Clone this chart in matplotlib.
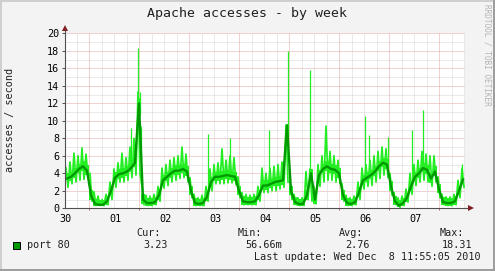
import numpy as np
import matplotlib
matplotlib.use("Agg")
import matplotlib.pyplot as plt
from matplotlib.lines import Line2D
from matplotlib.patches import Rectangle

# values, one per 4 px (~2 h), starting Nov 30 ~noon
avg = [3.4, 3.6, 4.0, 4.5, 4.8, 4.3, 1.5, 0.5, 0.4, 0.4, 0.8, 2.0, 3.5,
       3.9, 4.0, 4.2, 4.6, 5.2, 12.0, 1.0, 0.6, 0.6, 0.7, 1.5, 3.2,
       3.6, 4.0, 4.3, 4.3, 4.5, 4.2, 2.0, 0.6, 0.5, 0.6, 1.3, 3.0, 3.6,
       3.6, 3.7, 3.8, 3.7, 3.6, 2.0, 0.8, 0.7, 0.7, 0.8, 1.5, 2.6,
       2.6, 2.8, 3.0, 3.1, 3.2, 9.5, 2.0, 0.7, 0.5, 0.5, 1.5, 4.0, 1.0,
       3.8, 4.5, 4.8, 4.5, 4.4, 4.0, 1.5, 0.6, 0.5, 0.7, 1.8, 3.2,
       3.5, 3.8, 4.2, 4.8, 5.2, 5.0, 2.5, 0.8, 0.3, 0.6, 1.2, 2.5, 3.6,
       4.0, 4.6, 4.4, 3.4, 4.2, 2.2, 0.7, 0.6, 0.6, 0.8, 2.0, 3.3]
hi = [4.6, 5.3, 6.3, 6.0, 6.9, 6.2, 4.0, 1.9, 1.4, 1.0, 1.6, 3.0, 4.5,
      5.2, 6.3, 5.8, 7.0, 8.0, 13.3, 2.5, 1.5, 1.4, 1.6, 2.5, 4.6,
      5.0, 5.5, 5.8, 6.0, 7.0, 6.2, 3.5, 1.6, 1.2, 1.5, 2.5, 4.5, 5.0,
      5.2, 6.8, 5.5, 6.0, 5.8, 3.6, 1.8, 1.6, 1.5, 1.6, 2.5, 4.6,
      4.0, 4.6, 4.8, 5.0, 5.3, 9.5, 3.0, 1.6, 1.2, 1.2, 4.2, 4.5, 2.5,
      5.0, 6.0, 9.4, 6.5, 6.0, 5.5, 2.8, 1.5, 1.2, 1.4, 3.0, 4.6,
      5.0, 5.5, 6.0, 6.5, 7.0, 6.8, 4.0, 1.8, 1.2, 1.4, 2.2, 4.0, 5.0,
      5.5, 6.5, 6.2, 6.0, 6.0, 3.6, 1.6, 1.3, 1.3, 1.6, 3.2, 4.6]
lo = [2.4, 2.8, 3.0, 3.2, 3.3, 3.6, 0.8, 0.3, 0.3, 0.3, 0.4, 1.0, 2.4,
      3.0, 3.0, 3.2, 3.5, 3.8, 4.0, 0.4, 0.3, 0.3, 0.4, 0.8, 2.3,
      2.6, 3.0, 3.2, 3.4, 3.5, 3.0, 1.2, 0.3, 0.3, 0.3, 0.8, 2.0, 2.8,
      2.8, 2.8, 2.9, 2.9, 2.7, 1.2, 0.4, 0.4, 0.4, 0.4, 0.8, 1.8,
      1.8, 2.0, 2.0, 2.2, 2.4, 3.0, 1.0, 0.4, 0.3, 0.3, 1.0, 0.8, 0.5,
      2.5, 3.0, 3.2, 3.2, 3.0, 2.8, 0.8, 0.3, 0.3, 0.4, 1.0, 2.2,
      2.5, 2.6, 3.0, 3.4, 3.8, 3.5, 1.5, 0.4, 0.1, 0.3, 0.7, 1.6, 2.6,
      3.0, 3.2, 3.0, 2.5, 3.0, 1.2, 0.4, 0.3, 0.3, 0.4, 1.2, 2.4]

# single-sample peaks (day offset, value)
spike_day = [1.32, 1.466, 1.49, 1.526, 2.866, 3.30, 4.08, 4.466, 4.90,
             6.00, 6.08, 6.46, 6.934, 7.166, 7.93]
spike_val = [9.2, 18.3, 13.3, 9.4, 8.5, 8.0, 8.9, 18.0, 15.8,
             10.5, 8.4, 8.2, 8.9, 11.2, 5.1]

day_labels = ["30", "01", "02", "03", "04", "05", "06", "07"]
stats = [("Cur:", "3.23"), ("Min:", "56.66m"), ("Avg:", "2.76"), ("Max:", "18.31")]

W, H = 495, 271
MONO = "DejaVu Sans Mono"
bright = "#22ee22"
dark = "#009a00"

fig = plt.figure(figsize=(W / 100, H / 100), dpi=100)
fig.patch.set_facecolor("#f3f3f3")


def px(x, y):
    return x / W, 1 - y / H


ax = fig.add_axes([65 / W, (H - 208.3) / H, 400 / W, 175 / H])
ax.set_facecolor("white")
ax.set_xlim(0, 8)
ax.set_ylim(0, 20)
for s in ax.spines.values():
    s.set_visible(False)

# grid
dot = dict(linestyle=(0, (1, 1)), linewidth=0.72, zorder=0)
for v in range(21):
    ax.axhline(v, color="#e3a7a7" if v % 2 == 0 else "#d4d4d4", **dot)
midnight = 0.48
for k, v in enumerate(np.arange(midnight - 0.25, 8, 0.25)):
    if v <= 0.01:
        continue
    ax.axvline(v, color="#e3a7a7" if (k - 1) % 4 == 0 else "#d4d4d4", **dot)

# max line zig-zags between the upper and lower envelope every 2 px
x = np.arange(len(avg)) * 0.08 + 0.04
zx = np.column_stack([x - 0.02, x + 0.02]).ravel()
zy = np.column_stack([hi, lo]).ravel()
a = np.array(avg)
ax.fill_between(x, np.minimum(a + 0.6, hi), np.maximum(a - 0.5, lo),
                step="mid", color=bright, linewidth=0, zorder=2)
ax.plot(zx, zy, color=bright, linewidth=1.25, zorder=2)
ax.vlines(spike_day, np.interp(spike_day, x, avg), spike_val,
          color=bright, linewidth=0.9, zorder=2)
ax.plot(x, avg, color=dark, linewidth=1.7, zorder=3)

# axes with arrows
ax.plot([0, 0], [0, 20.5], color="#505050", linewidth=0.8, clip_on=False, zorder=4)
ax.plot([0, 8.1], [0, 0], color="#505050", linewidth=0.8, clip_on=False, zorder=4)
ax.plot([0], [20.55], marker="^", markersize=4.5, color="#7f1f1f",
        clip_on=False, zorder=5, markeredgewidth=0)
ax.plot([8.12], [0], marker=">", markersize=4.5, color="#7f1f1f",
        clip_on=False, zorder=5, markeredgewidth=0)

ax.set_yticks(range(0, 21, 2))
ax.set_yticklabels([str(v) for v in range(0, 21, 2)], fontfamily=MONO, fontsize=7.3)
ax.set_xticks(range(len(day_labels)))
ax.set_xticklabels(day_labels, fontfamily=MONO, fontsize=7.3)
ax.tick_params(axis="y", length=2.2, width=0.7, color="#505050", pad=2)
ax.tick_params(axis="x", length=0, pad=4)
ax.set_xticks(np.arange(midnight, 8, 1), minor=True)
ax.tick_params(axis="x", which="minor", length=1.5, width=0.7, color="#c06060")

# texts
fig.text(*px(247, 13), "Apache accesses - by week", ha="center", va="center",
         fontfamily=MONO, fontsize=9.5, color="#202020")
fig.text(*px(10, 120), "accesses / second", rotation=90, ha="center", va="center",
         fontfamily=MONO, fontsize=7.3, color="#202020")
fig.text(*px(487, 4), "RRDTOOL / TOBI OETIKER", rotation=-90, ha="center", va="top",
         fontfamily=MONO, fontsize=5.6, color="#b4b4b4")

fig.add_artist(Rectangle(px(13, 249), 7 / W, 7 / H, facecolor=dark,
                         edgecolor="black", linewidth=0.7, transform=fig.transFigure))
fig.text(*px(27, 245), "port 80", ha="left", va="center", fontfamily=MONO,
         fontsize=7.3, color="#202020")
label_end = [161, 262, 363, 464]
value_end = [168, 282, 370, 472]
for (lab, val), le, ve in zip(stats, label_end, value_end):
    fig.text(*px(le, 233), lab, ha="right", va="center", fontfamily=MONO,
             fontsize=7.3, color="#202020")
    fig.text(*px(ve, 245), val, ha="right", va="center", fontfamily=MONO,
             fontsize=7.3, color="#202020")
fig.text(*px(481, 257.5), "Last update: Wed Dec  8 11:55:05 2010", ha="right",
         va="center", fontfamily=MONO, fontsize=7.3, color="#202020")

# 3d frame
lw = 1.44
fig.add_artist(Line2D([0, 1], [1 - 1 / H] * 2, color="#cfcfcf", linewidth=lw))
fig.add_artist(Line2D([1 / W] * 2, [0, 1], color="#cfcfcf", linewidth=lw))
fig.add_artist(Line2D([0, 1], [1 / H] * 2, color="#9e9e9e", linewidth=lw))
fig.add_artist(Line2D([1 - 1 / W] * 2, [0, 1], color="#9e9e9e", linewidth=lw))

fig.savefig("out.png", dpi=100, facecolor=fig.get_facecolor())
